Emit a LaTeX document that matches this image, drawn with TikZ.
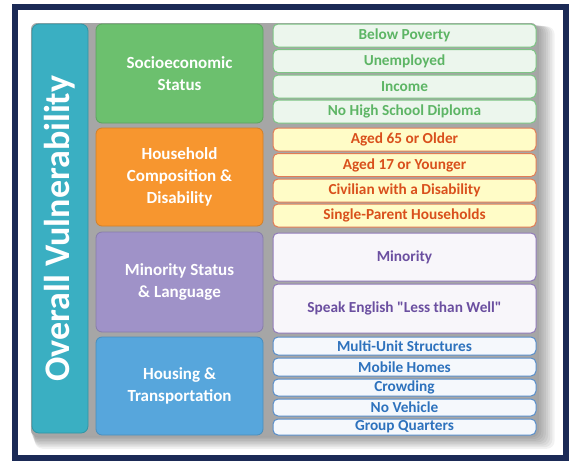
\documentclass[tikz,border=0pt]{standalone}
\usepackage{fontspec}
\setmainfont{Carlito}[Ligatures=TeXOff]
\usetikzlibrary{positioning}

\definecolor{navy}{HTML}{1B2A56}
\definecolor{tealbar}{HTML}{3AAFC2}
\definecolor{catgreen}{HTML}{6CC06E}
\definecolor{catorange}{HTML}{F7962F}
\definecolor{catpurple}{HTML}{9F92C8}
\definecolor{catblue}{HTML}{57A6DC}
\definecolor{txtgreen}{HTML}{5DB565}
\definecolor{txtorange}{HTML}{D9501C}
\definecolor{txtpurple}{HTML}{6B4FA0}
\definecolor{txtblue}{HTML}{2E72BD}

\tikzset{
  catbox/.style={draw=#1!85!black, fill=#1, rounded corners=6pt, line width=0.8pt,
    minimum width=167pt, text=white, align=center, inner sep=0pt,
    font=\bfseries\fontsize{17}{22}\selectfont},
  itembox/.style={rounded corners=5pt, line width=1pt, minimum width=263pt,
    inner sep=0pt, font=\bfseries\fontsize{15.3}{17}\selectfont},
  greenitem/.style={itembox, draw=txtgreen!80, fill=txtgreen!12, text=txtgreen},
  orangeitem/.style={itembox, draw=txtorange!75, fill=yellow!22, text=txtorange},
  purpleitem/.style={itembox, draw=txtpurple!75, fill=txtpurple!5, text=txtpurple},
  blueitem/.style={itembox, draw=txtblue!80, fill=txtblue!5, text=txtblue},
}

\begin{document}
\begin{tikzpicture}[x=1pt, y=-1pt]
	\useasboundingbox (0,0) rectangle (569,461);
	% frame
	\fill[white] (15,6.5) rectangle (566,458);
	\draw[navy, line width=6pt] (15,6.5) rectangle (566,458);
	% shadow behind the blocks
	\foreach \s in {1,...,8}
		\fill[black, opacity=0.05, rounded corners=8pt] (30+0.6*\s,24+0.3*\s) rectangle (537+2.2*\s,436+1.6*\s);
	\fill[gray!70, rounded corners=6pt] (31,23) rectangle (537,436);

	% overall bar
	\node[draw=tealbar!85!black, fill=tealbar, rounded corners=7pt, line width=0.8pt,
		minimum width=56pt, minimum height=409pt, inner sep=0pt] (overall) at (60,228.5) {};
	\node[rotate=90, text=white, font=\bfseries\fontsize{36}{38}\selectfont] (overalltxt) at (overall.center) {Overall Vulnerability};

	% themes
	\node[catbox=catgreen, minimum height=99pt] (socio) at (179.5,73.5) {Socioeconomic\\Status};
	\node[catbox=catorange, minimum height=98pt] (house) at (179.5,177) {Household\\Composition \&\\Disability};
	\node[catbox=catpurple, minimum height=100pt] (minor) at (179.5,282) {Minority Status\\\& Language};
	\node[catbox=catblue, minimum height=98pt] (housing) at (179.5,386) {Housing \&\\Transportation};

	% variables
	\node[greenitem, minimum height=23pt] (poverty) at (404.5,35.5) {Below Poverty};
	\node[greenitem, minimum height=23pt] (unemp) at (404.5,61) {Unemployed};
	\node[greenitem, minimum height=23pt] (income) at (404.5,86.5) {Income};
	\node[greenitem, minimum height=23pt] (diploma) at (404.5,111.5) {No High School Diploma};

	\node[orangeitem, minimum height=23pt] (old) at (404.5,139.5) {Aged 65 or Older};
	\node[orangeitem, minimum height=23pt] (young) at (404.5,165) {Aged 17 or Younger};
	\node[orangeitem, minimum height=23pt] (disab) at (404.5,190.5) {Civilian with a Disability};
	\node[orangeitem, minimum height=23pt] (single) at (404.5,215.5) {Single-Parent Households};

	\node[purpleitem, minimum height=48pt] (minority) at (404.5,257) {Minority};
	\node[purpleitem, minimum height=49pt] (english) at (404.5,308.5) {Speak English "Less than Well"};

	\node[blueitem, minimum height=18pt] (multi) at (404.5,346) {Multi-Unit Structures};
	\node[blueitem, minimum height=18pt] (mobile) at (404.5,367) {Mobile Homes};
	\node[blueitem, minimum height=17pt] (crowd) at (404.5,387.5) {Crowding};
	\node[blueitem, minimum height=17pt] (vehicle) at (404.5,407.5) {No Vehicle};
	\node[blueitem, minimum height=16pt] (group) at (404.5,427) {Group Quarters};
\end{tikzpicture}
\end{document}
